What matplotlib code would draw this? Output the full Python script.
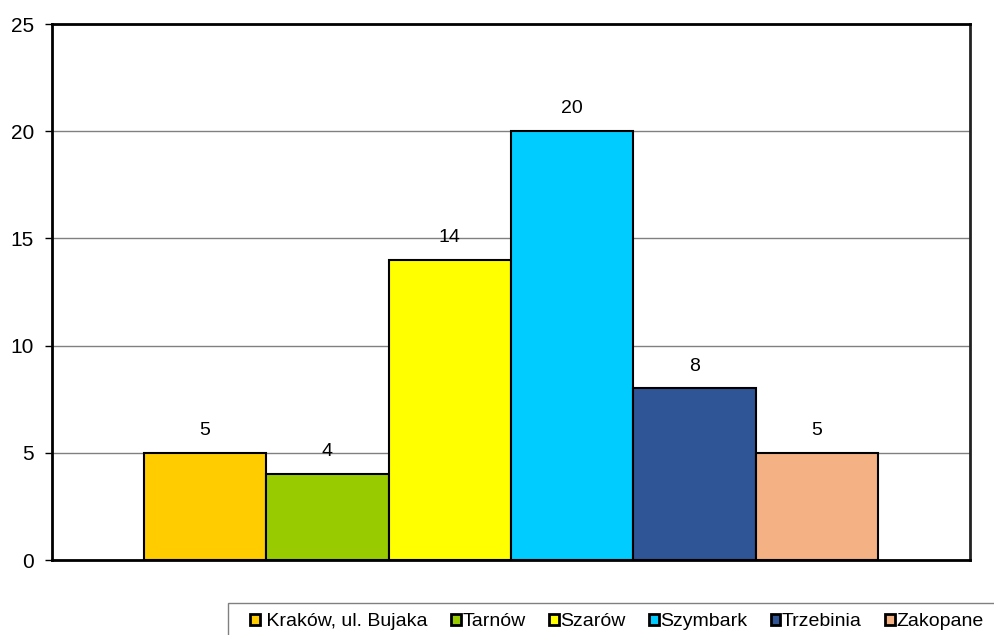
import matplotlib
matplotlib.use("Agg")
import matplotlib.pyplot as plt
import matplotlib.patches as mpatches
import numpy as np

matplotlib.rcParams['font.family'] = ['Liberation Sans', 'DejaVu Sans']

# liczba stanowisk w poszczególnych lokalizacjach
stations = ['Kraków, ul. Bujaka', 'Tarnów', 'Szarów', 'Szymbark', 'Trzebinia', 'Zakopane']
counts = [5, 4, 14, 20, 8, 5]
colors = ['#FFCC00', '#99CC00', '#FFFF00', '#00CCFF', '#2F5597', '#F4B183']

fig = plt.figure(figsize=(9.95, 6.35), dpi=100)
ax = fig.add_axes([52/995, 75/635, 918/995, 536/635])

n = len(stations)
w = 0.8 / n
offsets = (np.arange(n) - (n - 1) / 2) * w

for i, (off, val, name, col) in enumerate(zip(offsets, counts, stations, colors)):
    lab = ' ' + name if i == 0 else name
    ax.bar(off, val, width=w, color=col, edgecolor='black', linewidth=1.5,
           label=lab, zorder=3)
    ax.annotate(str(val), (off, val), xytext=(0, 10), textcoords='offset points',
                ha='center', va='bottom', fontsize=14)

ax.set_xlim(-0.5, 0.5)
ax.set_ylim(0, 25)
ax.set_yticks([0, 5, 10, 15, 20, 25])
ax.set_xticks([])
ax.tick_params(axis='y', direction='out', length=5, width=1, labelsize=15, pad=8)
ax.yaxis.grid(True, color='#808080', linewidth=1, zorder=0)

for s in ['left', 'bottom', 'top']:
    ax.spines[s].set_linewidth(2)
    ax.spines[s].set_color('black')
ax.spines['right'].set_linewidth(2)
ax.spines['right'].set_color('#222222')

# ramka legendy wychodzi poza prawą i dolną krawędź
frame = mpatches.Rectangle((228/995, -0.1), 1, 0.1 + 32/635, transform=fig.transFigure,
                           facecolor='white', edgecolor='#808080', linewidth=1,
                           clip_on=False)
fig.patches.append(frame)

leg = fig.legend(loc='center left', bbox_to_anchor=(250/995, 1 - 622/635), ncol=n,
                 fontsize=14, frameon=False,
                 handlelength=0.5, handleheight=0.5, handletextpad=0.08,
                 columnspacing=1.2, borderpad=0, borderaxespad=0)
for h in leg.legend_handles:
    h.set_linewidth(2)

plt.savefig('out.png', dpi=100)
